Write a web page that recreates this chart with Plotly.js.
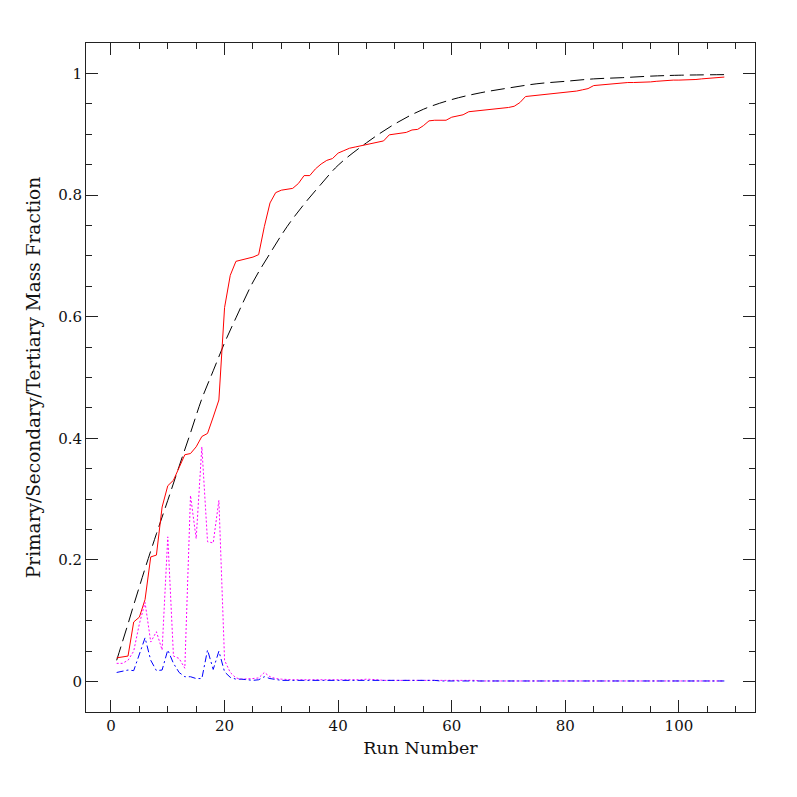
<!DOCTYPE html>
<html>
<head>
<meta charset="utf-8">
<script src="https://cdn.plot.ly/plotly-3.0.1.min.js"></script>
<style>
  html, body { margin: 0; padding: 0; background: #fff; }
  #plot { width: 797px; height: 797px; }
</style>
</head>
<body>
<div id="plot"></div>
<script>
// primary (red), secondary (magenta), tertiary (blue) mass fraction per run
var primary = [
  0.039, 0.040, 0.042, 0.098, 0.106, 0.135, 0.205, 0.208, 0.287, 0.322,
  0.331, 0.352, 0.373, 0.375, 0.386, 0.403, 0.408, 0.435, 0.463, 0.615,
  0.668, 0.691, 0.693, 0.695, 0.698, 0.702, 0.748, 0.787, 0.804, 0.808,
  0.810, 0.811, 0.819, 0.832, 0.832, 0.843, 0.851, 0.857, 0.860, 0.869,
  0.873, 0.877, 0.879, 0.881, 0.883, 0.884, 0.886, 0.889, 0.899, 0.900,
  0.901, 0.903, 0.907, 0.908, 0.914, 0.922, 0.923, 0.923, 0.923, 0.928,
  0.930, 0.932, 0.937, 0.938, 0.938, 0.940, 0.941, 0.942, 0.943, 0.944,
  0.946, 0.952, 0.962, 0.963, 0.964, 0.965, 0.965, 0.966, 0.967, 0.968,
  0.969, 0.971, 0.973, 0.975, 0.980, 0.981, 0.982, 0.983, 0.984, 0.984,
  0.985, 0.985, 0.985, 0.986, 0.986, 0.987, 0.988, 0.989, 0.989, 0.989,
  0.989, 0.990, 0.990, 0.991, 0.992, 0.993, 0.993, 0.994
];
var secondary = [
  0.030, 0.030, 0.035, 0.050, 0.095, 0.130, 0.065, 0.082, 0.052, 0.238,
  0.042, 0.038, 0.022, 0.306, 0.235, 0.386, 0.230, 0.228, 0.298, 0.035,
  0.015, 0.006, 0.004, 0.004, 0.005, 0.006, 0.015, 0.008, 0.005, 0.004,
  0.003, 0.003, 0.003, 0.003, 0.002, 0.003, 0.003, 0.002, 0.002, 0.003,
  0.003, 0.002, 0.003, 0.003, 0.004, 0.004, 0.003, 0.002, 0.002, 0.002,
  0.002, 0.002, 0.002, 0.002, 0.003, 0.003, 0.002, 0.002, 0.002, 0.002,
  0.002, 0.002, 0.002, 0.002, 0.001, 0.001, 0.001, 0.001, 0.001, 0.001,
  0.001, 0.001, 0.001, 0.001, 0.001, 0.001, 0.001, 0.001, 0.001, 0.001,
  0.001, 0.001, 0.001, 0.001, 0.001, 0.001, 0.001, 0.001, 0.001, 0.001,
  0.001, 0.001, 0.001, 0.001, 0.001, 0.001, 0.001, 0.001, 0.001, 0.001,
  0.001, 0.001, 0.001, 0.001, 0.001, 0.001, 0.001, 0.001
];
var tertiary = [
  0.015, 0.017, 0.019, 0.018, 0.045, 0.072, 0.035, 0.018, 0.019, 0.052,
  0.030, 0.015, 0.008, 0.008, 0.005, 0.005, 0.052, 0.020, 0.050, 0.016,
  0.007, 0.004, 0.004, 0.003, 0.002, 0.003, 0.008, 0.005, 0.003, 0.002,
  0.002, 0.002, 0.002, 0.002, 0.002, 0.002, 0.002, 0.002, 0.002, 0.002,
  0.002, 0.002, 0.002, 0.002, 0.002, 0.003, 0.002, 0.002, 0.002, 0.002,
  0.002, 0.002, 0.002, 0.002, 0.002, 0.002, 0.002, 0.001, 0.001, 0.001,
  0.001, 0.001, 0.001, 0.001, 0.001, 0.001, 0.001, 0.001, 0.001, 0.001,
  0.001, 0.001, 0.001, 0.001, 0.001, 0.001, 0.001, 0.001, 0.001, 0.001,
  0.001, 0.001, 0.001, 0.001, 0.001, 0.001, 0.001, 0.001, 0.001, 0.001,
  0.001, 0.001, 0.001, 0.001, 0.001, 0.001, 0.001, 0.001, 0.001, 0.001,
  0.001, 0.001, 0.001, 0.001, 0.001, 0.001, 0.001, 0.001
];

var refRuns = [1, 2, 3, 4, 5, 6, 8, 10, 12, 14, 16, 18, 20, 22, 25, 28, 31, 34,
  37, 40, 45, 50, 55, 60, 65, 70, 75, 80, 85, 90, 95, 100, 108];
var refFrac = [0.035, 0.065, 0.095, 0.126, 0.156, 0.186, 0.243, 0.298, 0.354,
  0.409, 0.465, 0.511, 0.557, 0.598, 0.657, 0.704, 0.748, 0.785, 0.818, 0.849,
  0.886, 0.917, 0.941, 0.957, 0.968, 0.976, 0.983, 0.987, 0.991, 0.993, 0.9955,
  0.997, 0.998];

var runs = [];
for (var i = 1; i <= primary.length; i++) runs.push(i);

var fontFam = "DejaVu Serif, Liberation Serif, serif";

var data = [
  { x: refRuns, y: refFrac, type: "scatter", mode: "lines",
    line: { color: "#000", width: 1, dash: "14px,6px", shape: "spline" } },
  { x: runs, y: primary, type: "scatter", mode: "lines",
    line: { color: "#ff0000", width: 1 } },
  { x: runs, y: secondary, type: "scatter", mode: "lines",
    line: { color: "#ff00ff", width: 1, dash: "2px,2px" } },
  { x: runs, y: tertiary, type: "scatter", mode: "lines",
    line: { color: "#0000ff", width: 1, dash: "7px,3px,2px,3px" } }
];

var axisCommon = {
  showgrid: false, zeroline: false, showline: true, mirror: "allticks",
  linecolor: "#222", linewidth: 1,
  ticks: "inside", ticklen: 12, tickcolor: "#222", tickwidth: 1,
  tickfont: { family: fontFam, size: 15, color: "#111" }
};

var layout = {
  width: 797, height: 797,
  margin: { l: 86, r: 42, t: 43, b: 85 },
  paper_bgcolor: "#fff", plot_bgcolor: "#fff",
  showlegend: false,
  xaxis: Object.assign({}, axisCommon, {
    range: [-4.4, 113.4], dtick: 20, tick0: 0,
    minor: { dtick: 5, ticks: "inside", ticklen: 6, tickcolor: "#222", showgrid: false },
    title: { text: "Run Number", font: { family: fontFam, size: 17.5, color: "#111" }, standoff: 7 }
  }),
  yaxis: Object.assign({}, axisCommon, {
    range: [-0.05, 1.05], dtick: 0.2, tick0: 0,
    minor: { dtick: 0.05, ticks: "inside", ticklen: 6, tickcolor: "#222", showgrid: false },
    title: { text: "Primary/Secondary/Tertiary Mass Fraction", font: { family: fontFam, size: 18.5, color: "#111" }, standoff: 12 }
  })
};

Plotly.newPlot("plot", data, layout, { staticPlot: true });
</script>
</body>
</html>
